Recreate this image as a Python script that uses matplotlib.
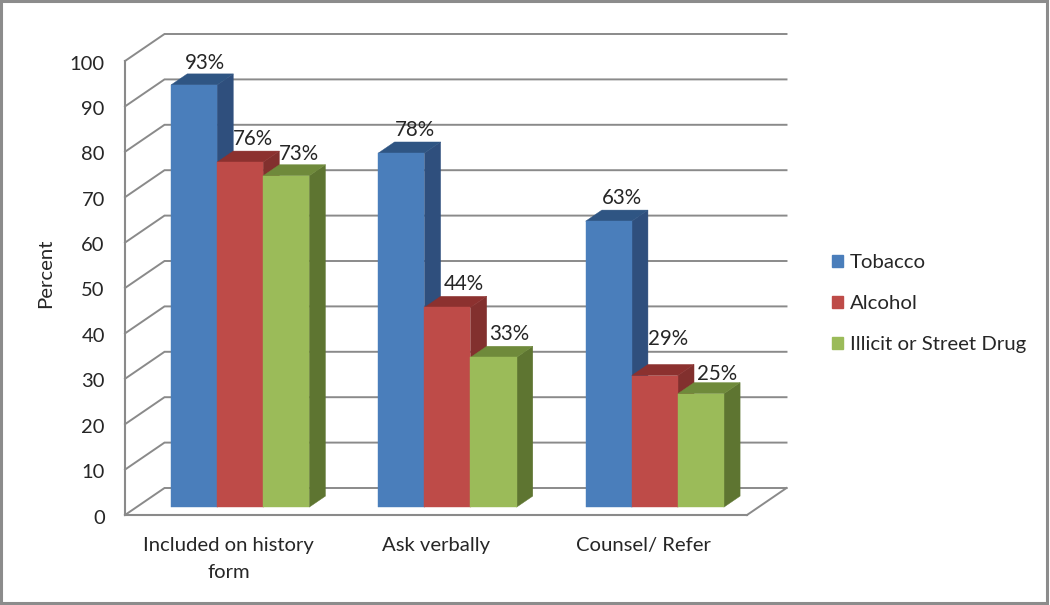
import numpy as np
import matplotlib.pyplot as plt
from matplotlib.patches import Patch, Polygon, Rectangle
from matplotlib.transforms import ScaledTranslation

categories = ["Included on history\nform", "Ask verbally", "Counsel/ Refer"]
series_names = ["Tobacco", "Alcohol", "Illicit or Street Drug"]
tobacco = [93, 78, 63]
alcohol = [76, 44, 29]
illicit = [73, 33, 25]
y_ticks = [0, 10, 20, 30, 40, 50, 60, 70, 80, 90, 100]

front_colors = ["#4A7EBB", "#BE4B48", "#9BBB59"]
top_colors = ["#2F5583", "#8C312F", "#6F8A3B"]
side_colors = ["#2F4F7D", "#82302E", "#5E7531"]
GRID = "#8A8A8A"
TEXT = "#262626"

W, H = 1050, 605
plt.rcParams["font.family"] = ["Lato", "DejaVu Sans"]

fig = plt.figure(figsize=(W / 100, H / 100), dpi=100)
# the axes rectangle is the front plane of the fake 3d box
ax = fig.add_axes([125 / W, 1 - 515 / H, 622 / W, 454 / H])
ax.set_xlim(0, 3)
ax.set_ylim(0, 100)

# depth of the floor, in data units
DX = 39.5 / (622 / 3)
DY = 27 / 4.54
BAR_W = 1 / 4.5
T_FRONT = 0.29
T_BACK = 0.70

# walls
for t in y_ticks:
    ax.plot([0, DX, 3 + DX], [t, t + DY, t + DY], color=GRID, lw=1.4, clip_on=False, zorder=1, solid_joinstyle="miter")
ax.plot([3, 3 + DX], [0, DY], color=GRID, lw=1.4, clip_on=False, zorder=1)


def draw_bar(x, v, k, z, label_shift=(0, 0)):
    x0 = x + T_FRONT * DX
    x1 = x0 + BAR_W
    y0 = T_FRONT * DY
    top = v + y0
    ddx = (T_BACK - T_FRONT) * DX
    ddy = (T_BACK - T_FRONT) * DY
    ax.bar(x0, v, BAR_W, bottom=y0, align="edge", color=front_colors[k], zorder=z + 1, clip_on=False,
           edgecolor=front_colors[k], lw=0.3)
    ax.add_patch(Polygon([(x1, y0), (x1 + ddx, y0 + ddy), (x1 + ddx, top + ddy), (x1, top)],
                         fc=side_colors[k], ec=side_colors[k], lw=0.3, zorder=z, clip_on=False))
    ax.add_patch(Polygon([(x0, top), (x0 + ddx, top + ddy), (x1 + ddx, top + ddy), (x1, top)],
                         fc=top_colors[k], ec=top_colors[k], lw=0.3, zorder=z, clip_on=False))
    ax.annotate(f"{v}%", (x0 + BAR_W / 2, top),
                xytext=(9.5 + label_shift[0], 16.5 + label_shift[1]), textcoords="offset points",
                ha="center", va="center", fontsize=14.8, color=TEXT, zorder=50)


# a few labels sit off the usual spot in the original
label_shifts = {(0, 0): (-1.5, -0.5), (0, 2): (0, -1), (1, 1): (2.5, 0), (1, 2): (2, 0),
                (2, 1): (0, 10), (2, 2): (2, -2)}

z = 2
for i in range(len(categories)):
    for k, vals in enumerate([tobacco, alcohol, illicit]):
        draw_bar(i + (1 - 3 * BAR_W) / 2 + k * BAR_W, vals[i], k, z, label_shifts.get((i, k), (0, 0)))
        z += 2

for s in ["top", "right"]:
    ax.spines[s].set_visible(False)
for s in ["left", "bottom"]:
    ax.spines[s].set_color(GRID)
    ax.spines[s].set_linewidth(1.5)

ax.set_yticks(y_ticks)
ax.set_xticks(np.arange(len(categories)) + 0.5)
ax.set_xticklabels(categories, linespacing=1.75)
ax.tick_params(axis="both", length=0, labelcolor=TEXT)
ax.tick_params(axis="y", pad=14.5, labelsize=14.5)
ax.tick_params(axis="x", pad=15.5, labelsize=14.6)
ax.patch.set_alpha(0)
ax.set_ylabel("Percent", fontsize=14.7, color=TEXT, labelpad=11.5, y=0.532)

# nudge the y tick labels down a little
nudge = ScaledTranslation(0, -1.5 / 100, fig.dpi_scale_trans)
for lab in ax.get_yticklabels():
    lab.set_transform(lab.get_transform() + nudge)

handles = [Patch(color=c, label=n) for c, n in zip(front_colors, series_names)]
fig.legend(handles=handles, loc="upper left", bbox_to_anchor=(832 / W, 1 - 254 / H), frameon=False,
           fontsize=14.7, labelcolor=TEXT, handlelength=0.55, handleheight=0.55, handletextpad=0.33,
           labelspacing=1.18, borderpad=0, borderaxespad=0)

# outer frame of the picture
fig.add_artist(Rectangle((1 / W, 2 / H), 1046 / W, 602 / H, transform=fig.transFigure,
                         fill=False, ec="#8C8C8C", lw=2.2))

fig.savefig("out.png", dpi=100)
